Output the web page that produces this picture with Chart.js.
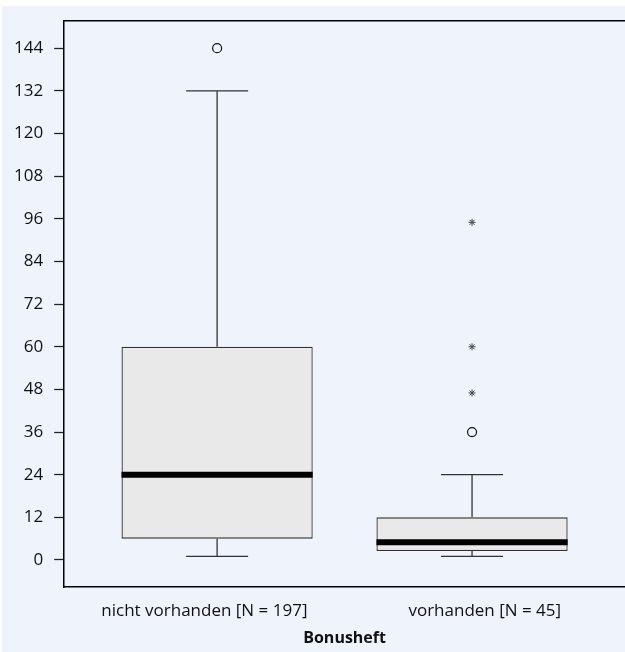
<!DOCTYPE html>
<html>
<head>
<meta charset="utf-8">
<script src="https://cdn.jsdelivr.net/npm/chart.js@4"></script>
<style>
  html, body { margin: 0; padding: 0; background: #ffffff; overflow: hidden; }
  #wrap { width: 625px; height: 652px; }
  canvas { display: block; }
</style>
</head>
<body>
<div id="wrap"><canvas id="boxplot" width="625" height="652"></canvas></div>
<script>
// daten der beiden gruppen (Bonusheft)
var categories = ['nicht vorhanden [N = 197]', 'vorhanden [N = 45]'];
var positions = [1, 2];
var whiskerLow = [1, 1];
var q1 = [6, 2.5];
var median = [24, 5];
var q3 = [60, 12];
var whiskerHigh = [132, 24];
var outliers = [[144], [36]];        // kreise
var extremes = [[], [47, 60, 95]];   // sternchen
var yTicks = [0, 12, 24, 36, 48, 60, 72, 84, 96, 108, 120, 132, 144];

var FONT = '"Open Sans", "Noto Sans", sans-serif';

//----------------------------------------------------------------------------
function buildPoints(list) {
  var pts = [];
  for (var i = 0; i < list.length; i++) {
    for (var j = 0; j < list[i].length; j++) {
      pts.push({ x: positions[i], y: list[i][j] });
    }
  }
  return pts;
}

var boxData = [];
for (var i = 0; i < positions.length; i++) {
  boxData.push({ x: positions[i], y: [q1[i], q3[i]] });
}

// hintergrund
var bgPlugin = {
  id: 'bg',
  beforeDraw: function (chart) {
    var ctx = chart.ctx;
    ctx.save();
    ctx.fillStyle = '#eff4fc';
    ctx.fillRect(2, 6, chart.width - 2, chart.height - 6);
    ctx.restore();
  }
};

// whisker, caps und median
var whiskerPlugin = {
  id: 'whisker',
  afterDatasetsDraw: function (chart) {
    var ctx = chart.ctx;
    var xs = chart.scales.xb;
    var ys = chart.scales.y;
    var bars = chart.getDatasetMeta(0).data;
    var capHalf = 31;
    ctx.save();
    for (var i = 0; i < positions.length; i++) {
      var cx = xs.getPixelForValue(positions[i]);
      var yLo = ys.getPixelForValue(whiskerLow[i]);
      var yQ1 = ys.getPixelForValue(q1[i]);
      var yQ3 = ys.getPixelForValue(q3[i]);
      var yHi = ys.getPixelForValue(whiskerHigh[i]);
      ctx.strokeStyle = '#333333';
      ctx.lineWidth = 1.3;
      ctx.beginPath();
      ctx.moveTo(cx, yQ3); ctx.lineTo(cx, yHi);
      ctx.moveTo(cx - capHalf, yHi); ctx.lineTo(cx + capHalf, yHi);
      ctx.moveTo(cx, yQ1); ctx.lineTo(cx, yLo);
      ctx.moveTo(cx - capHalf, yLo); ctx.lineTo(cx + capHalf, yLo);
      ctx.stroke();

      var bw = bars[i].width;
      var yMed = ys.getPixelForValue(median[i]);
      ctx.strokeStyle = '#000000';
      ctx.lineWidth = 6;
      ctx.beginPath();
      ctx.moveTo(cx - bw / 2, yMed);
      ctx.lineTo(cx + bw / 2, yMed);
      ctx.stroke();
    }
    ctx.restore();
  }
};

var ctx = document.getElementById('boxplot');
var chart = new Chart(ctx, {
  type: 'bar',
  data: {
    labels: categories,
    datasets: [
      {
        label: 'box',
        data: boxData,
        xAxisID: 'xb',
        yAxisID: 'y',
        backgroundColor: '#e9e9e9',
        borderColor: '#333333',
        borderWidth: 1.3,
        borderSkipped: false,
        barPercentage: 0.75,
        categoryPercentage: 1
      },
      {
        type: 'scatter',
        label: 'ausreisser',
        data: buildPoints(outliers),
        xAxisID: 'xb',
        yAxisID: 'y',
        pointStyle: 'circle',
        pointRadius: 4.5,
        borderColor: '#111111',
        borderWidth: 1.2,
        backgroundColor: 'rgba(0,0,0,0)'
      },
      {
        type: 'scatter',
        label: 'extremwerte',
        data: buildPoints(extremes),
        xAxisID: 'xb',
        yAxisID: 'y',
        pointStyle: 'star',
        pointRadius: 3.5,
        borderColor: '#444444',
        borderWidth: 1
      }
    ]
  },
  options: {
    responsive: false,
    animation: false,
    layout: { autoPadding: false, padding: { left: 3, top: 12, right: 0, bottom: 6 } },
    plugins: {
      legend: { display: false },
      tooltip: { enabled: false }
    },
    scales: {
      xb: {
        type: 'linear',
        position: 'top',
        min: 0.4,
        max: 2.6,
        offset: false,
        afterBuildTicks: function (axis) {
          axis.ticks = positions.map(function (v) { return { value: v }; });
        },
        ticks: { display: false },
        grid: { display: false },
        border: { display: true, color: '#000000', width: 1.5 }
      },
      x: {
        type: 'category',
        position: 'bottom',
        offset: true,
        grid: { display: false },
        border: { display: true, color: '#000000', width: 1.5 },
        ticks: { color: '#111111', padding: 8, font: { family: FONT, size: 17, lineHeight: 1 } },
        title: {
          display: true,
          text: 'Bonusheft',
          color: '#111111',
          padding: { top: 2, bottom: 0 },
          font: { family: FONT, size: 16, weight: 'bold', lineHeight: 1 }
        }
      },
      y: {
        type: 'linear',
        min: -7.6,
        max: 151.6,
        afterBuildTicks: function (axis) {
          axis.ticks = yTicks.map(function (v) { return { value: v }; });
        },
        grid: {
          drawOnChartArea: false,
          drawTicks: true,
          tickLength: 10,
          tickColor: '#222222',
          tickWidth: 1.3
        },
        border: { display: true, color: '#000000', width: 1.5 },
        ticks: { color: '#111111', padding: 11, font: { family: FONT, size: 17 } }
      }
    }
  },
  plugins: [bgPlugin, whiskerPlugin]
});
</script>
</body>
</html>
